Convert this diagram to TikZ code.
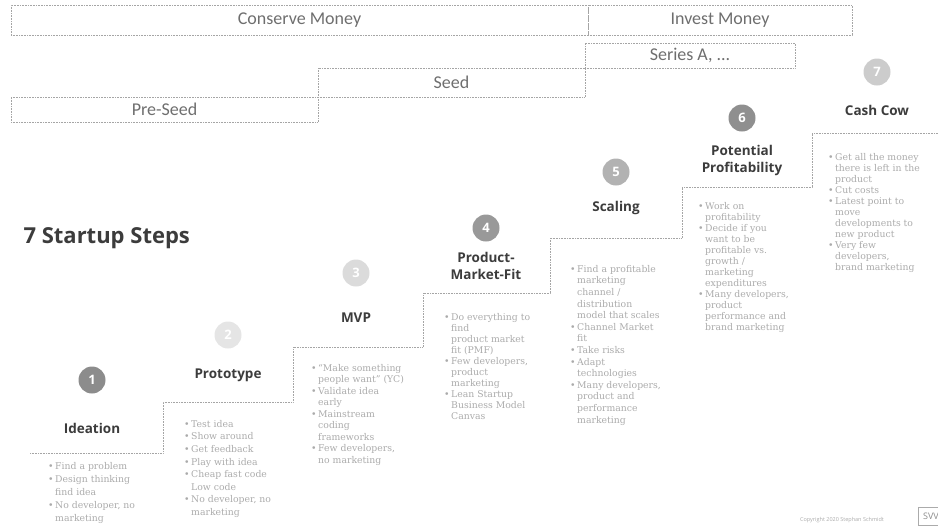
\documentclass[tikz,border=0pt]{standalone}
\usepackage{fontspec}
\setmainfont{DejaVu Serif}
\newfontfamily\titlefont{Open Sans}
\newfontfamily\fundfont{Carlito}
\usepackage{tikz}
\usetikzlibrary{positioning,decorations.pathmorphing}
\definecolor{titlegray}{HTML}{3C3C3C}
\definecolor{textgray}{HTML}{ABABAB}
\definecolor{linegray}{HTML}{A5A5A5}
\definecolor{fundgray}{HTML}{6E6E6E}
\newcommand{\bul}{\makebox[7pt][l]{\textbullet}}
\newcommand{\ein}{\hspace*{7pt}}
\tikzset{
	fundbox/.style = {draw=linegray, densely dotted, line width=0.6pt, inner sep=0pt, font=\fundfont\fontsize{18}{20}\selectfont, text=fundgray},
	stairline/.style = {draw=linegray, densely dotted, line width=0.6pt},
	numcircle/.style = {circle, minimum size=27pt, inner sep=0pt, text=white, font=\titlefont\bfseries\fontsize{13}{13}\selectfont},
	steptitle/.style = {align=center, text=titlegray, font=\titlefont\bfseries\fontsize{13.5}{17}\selectfont},
	bullets/.style = {anchor=north west, align=left, inner sep=0pt, text=textgray, font=\fontsize{9.3}{11}\selectfont}
}

\begin{document}
\begin{tikzpicture}[x=1pt,y=-1pt]
    \useasboundingbox (0,0) rectangle (938,531);

    % funding phases
    \node [fundbox, minimum width=577pt, minimum height=30pt] (conserve) at (299.5,20) {Conserve Money};
    \node [fundbox, minimum width=264pt, minimum height=30pt] (invest) at (720,20) {Invest Money};
    \node [fundbox, minimum width=307pt, minimum height=25pt] (preseed) at (164.5,109.5) {Pre-Seed};
    \node [fundbox, minimum width=267pt, minimum height=29pt] (seed) at (451.5,82.5) {Seed};
    \node [fundbox, minimum width=210pt, minimum height=25pt] (seriesa) at (690,55.5) {Series A, ...};

    \node [text=titlegray, anchor=west, font=\titlefont\bfseries\fontsize{22}{26}\selectfont] (haupttitel) at (20,238) {7 Startup Steps};

    % stairs
    \draw [stairline] (30,453) -- (163,453) -- (163,402) -- (293,402) -- (293,347) -- (423,347) -- (423,293) -- (550,293) -- (550,238) -- (682,238) -- (682,187) -- (812,187) -- (812,133) -- (938,133);

    \node [numcircle, fill=black!45] (kreis1) at (92,380) {1};
    \node [steptitle, below of=kreis1, node distance=48pt] (ideation) {Ideation};
    \node [numcircle, fill=black!10] (kreis2) at (228,335) {2};
    \node [steptitle, below of=kreis2, node distance=40pt] (prototype) {Prototype};
    \node [numcircle, fill=black!14] (kreis3) at (356,273) {3};
    \node [steptitle, below of=kreis3, node distance=45pt] (mvp) {MVP};
    \node [numcircle, fill=black!40] (kreis4) at (486,228) {4};
    \node [steptitle, below of=kreis4, node distance=38pt] (pmf) {Product-\\Market-Fit};
    \node [numcircle, fill=black!30] (kreis5) at (616,172) {5};
    \node [steptitle, below of=kreis5, node distance=36pt] (scaling) {Scaling};
    \node [numcircle, fill=black!44] (kreis6) at (742,118) {6};
    \node [steptitle, below of=kreis6, node distance=42pt] (profit) {Potential\\Profitability};
    \node [numcircle, fill=black!20] (kreis7) at (877,72) {7};
    \node [steptitle, below of=kreis7, node distance=38pt] (cashcow) {Cash Cow};

    \node [bullets, font=\fontsize{9.3}{13}\selectfont] (liste1) at (48,462) {\bul Find a problem\\\bul Design thinking\\\ein find idea\\\bul No developer, no\\\ein marketing};
    \node [bullets, font=\fontsize{9.3}{12.6}\selectfont] (liste2) at (184,420) {\bul Test idea\\\bul Show around\\\bul Get feedback\\\bul Play with idea\\\bul Cheap fast code\\\ein Low code\\\bul No developer, no\\\ein marketing};
    \node [bullets, font=\fontsize{9.3}{11.5}\selectfont] (liste3) at (311,364) {\bul ``Make something\\\ein people want'' (YC)\\\bul Validate idea\\\ein early\\\bul Mainstream\\\ein coding\\\ein frameworks\\\bul Few developers,\\\ein no marketing};
    \node [bullets] (liste4) at (444,313) {\bul Do everything to\\\ein find\\\ein product market\\\ein fit (PMF)\\\bul Few developers,\\\ein product\\\ein marketing\\\bul Lean Startup\\\ein Business Model\\\ein Canvas};
    \node [bullets, font=\fontsize{9.3}{11.6}\selectfont] (liste5) at (570,265) {\bul Find a profitable\\\ein marketing\\\ein channel /\\\ein distribution\\\ein model that scales\\\bul Channel Market\\\ein fit\\\bul Take risks\\\bul Adapt\\\ein technologies\\\bul Many developers,\\\ein product and\\\ein performance\\\ein marketing};
    \node [bullets] (liste6) at (698,202) {\bul Work on\\\ein profitability\\\bul Decide if you\\\ein want to be\\\ein profitable vs.\\\ein growth /\\\ein marketing\\\ein expenditures\\\bul Many developers,\\\ein product\\\ein performance and\\\ein brand marketing};
    \node [bullets] (liste7) at (828,153) {\bul Get all the money\\\ein there is left in the\\\ein product\\\bul Cut costs\\\bul Latest point to\\\ein move\\\ein developments to\\\ein new product\\\bul Very few\\\ein developers,\\\ein brand marketing};

    \node [text=textgray, font=\titlefont\fontsize{5.5}{6}\selectfont] (copyright) at (842,520) {Copyright 2020 Stephan Schmidt};
    \node [draw=textgray, text=black!45, minimum width=26pt, minimum height=18pt, font=\titlefont\fontsize{9}{9}\selectfont] (logo) at (931,516) {SVV};
  \end{tikzpicture}
\end{document}
